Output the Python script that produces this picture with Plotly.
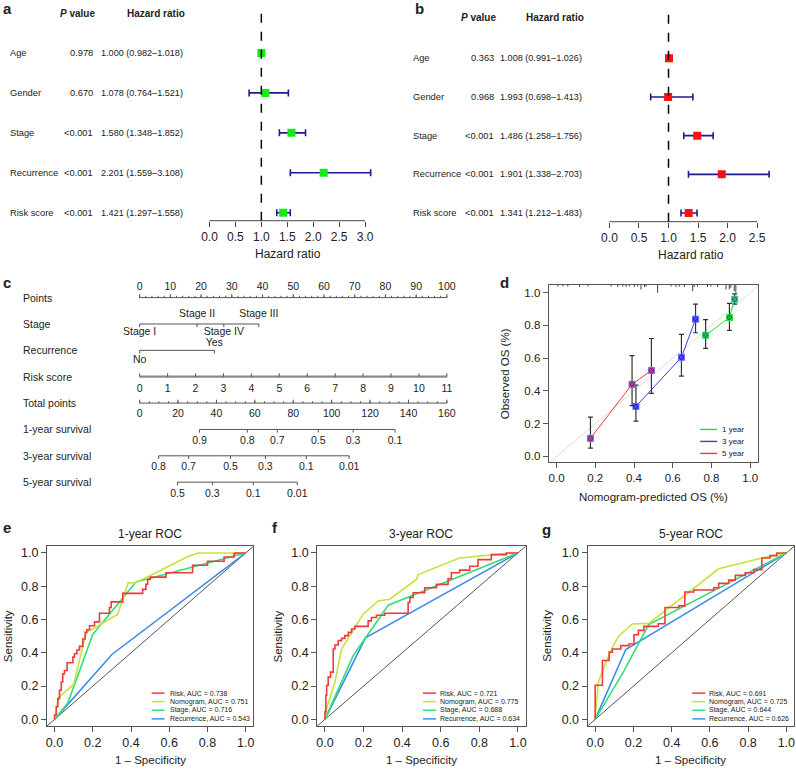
import plotly.graph_objects as go

W, H = 796, 770
FONT = "Liberation Sans, Arial, sans-serif"
INK = "#222222"


def X(px):
    return px / W


def Y(py):
    return 1 - py / H


# ---------------- data ----------------
# a / b : Cox regression forest plots
variables = ["Age", "Gender", "Stage", "Recurrence", "Risk score"]
a_pval = ["0.978", "0.670", "<0.001", "<0.001", "<0.001"]
a_hr = [1.000, 1.078, 1.580, 2.201, 1.421]
a_low = [0.982, 0.764, 1.348, 1.559, 1.297]
a_high = [1.018, 1.521, 1.852, 3.108, 1.558]
a_ticks = [0, 0.5, 1.0, 1.5, 2.0, 2.5, 3.0]

b_pval = ["0.363", "0.968", "<0.001", "<0.001", "<0.001"]
b_hr = [1.008, 0.993, 1.486, 1.901, 1.341]
b_hr_label = ["1.008", "1.993", "1.486", "1.901", "1.341"]
b_low = [0.991, 0.698, 1.258, 1.338, 1.212]
b_high = [1.026, 1.413, 1.756, 2.703, 1.483]
b_ticks = [0, 0.5, 1.0, 1.5, 2.0, 2.5]

# c : nomogram (positions in points / total points)
nom_rows = ["Points", "Stage", "Recurrence", "Risk score", "Total points",
            "1-year survival", "3-year survival", "5-year survival"]
points_ticks = [0, 10, 20, 30, 40, 50, 60, 70, 80, 90, 100]
stage_levels = ["Stage I", "Stage II", "Stage IV", "Stage III"]
stage_points = [0, 18.7, 27.4, 38.8]
rec_levels = ["No", "Yes"]
rec_points = [0, 24.3]
risk_ticks = [0, 1, 2, 3, 4, 5, 6, 7, 8, 9, 10, 11]
risk_max = 11
total_ticks = [0, 20, 40, 60, 80, 100, 120, 140, 160]
total_max = 160
surv1_labels = ["0.9", "0.8", "0.7", "0.5", "0.3", "0.1"]
surv1_total = [31.2, 56.1, 71.7, 93.0, 111.2, 133.0]
surv3_labels = ["0.8", "0.7", "0.5", "0.3", "0.1", "0.01"]
surv3_total = [9.9, 25.5, 47.3, 65.5, 86.8, 109.1]
surv5_labels = ["0.5", "0.3", "0.1", "0.01"]
surv5_total = [19.7, 37.9, 59.2, 82.1]

# d : calibration
cal1_x = [0.770, 0.893, 0.920]
cal1_y = [0.740, 0.848, 0.960]
cal1_lo = [0.660, 0.770, 0.930]
cal1_hi = [0.835, 0.935, 0.992]
cal3_x = [0.410, 0.645, 0.718]
cal3_y = [0.305, 0.605, 0.838]
cal3_lo = [0.215, 0.490, 0.755]
cal3_hi = [0.435, 0.745, 0.930]
cal5_x = [0.175, 0.390, 0.490]
cal5_y = [0.110, 0.440, 0.525]
cal5_lo = [0.050, 0.310, 0.385]
cal5_hi = [0.240, 0.615, 0.720]
rug_x = [0.007, 0.033, 0.058, 0.119, 0.162, 0.282, 0.316, 0.342, 0.359, 0.376,
         0.402, 0.419, 0.436, 0.454, 0.462, 0.522, 0.591, 0.617, 0.634, 0.660,
         0.703, 0.711, 0.728, 0.780, 0.797, 0.832, 0.875, 0.892, 0.900, 0.918, 0.926]
rug_len = [0.012, 0.012, 0.012, 0.015, 0.012, 0.012, 0.015, 0.012, 0.015, 0.012,
           0.015, 0.012, 0.03, 0.015, 0.012, 0.05, 0.012, 0.015, 0.012, 0.015,
           0.04, 0.015, 0.012, 0.015, 0.012, 0.015, 0.03, 0.03, 0.02, 0.04, 0.05]

# e / f / g : ROC curves
e_risk_fpr = [0, 0.009, 0.017, 0.026, 0.035, 0.043, 0.052, 0.066, 0.078, 0.096,
              0.104, 0.117, 0.130, 0.148, 0.160, 0.169, 0.183, 0.209, 0.235, 0.270,
              0.287, 0.296, 0.313, 0.357, 0.374, 0.461, 0.478, 0.487, 0.501, 0.510,
              0.583, 0.591, 0.722, 0.730, 0.800, 0.809, 0.887, 0.896, 0.939, 0.948, 1.0]
e_risk_tpr = [0, 0.026, 0.076, 0.125, 0.175, 0.225, 0.274, 0.294, 0.340, 0.340,
              0.374, 0.394, 0.417, 0.439, 0.483, 0.523, 0.539, 0.563, 0.586, 0.638,
              0.638, 0.672, 0.706, 0.706, 0.757, 0.757, 0.781, 0.811, 0.841, 0.855,
              0.855, 0.881, 0.881, 0.926, 0.926, 0.950, 0.950, 0.976, 0.976, 0.996, 1.0]
e_nom_fpr = [0, 0.01, 0.02, 0.10, 0.165, 0.33, 0.385, 0.42, 0.52, 0.70, 0.75, 1.0]
e_nom_tpr = [0, 0.07, 0.13, 0.21, 0.52, 0.63, 0.82, 0.82, 0.875, 0.98, 1.0, 1.0]
e_stage_fpr = [0, 0.07, 0.20, 0.426, 1.0]
e_stage_tpr = [0, 0.10, 0.51, 0.825, 1.0]
e_rec_fpr = [0, 0.30, 1.0]
e_rec_tpr = [0, 0.39, 1.0]
e_auc = ["0.738", "0.751", "0.716", "0.543"]

f_risk_fpr = [0, 0.005, 0.009, 0.017, 0.029, 0.043, 0.052, 0.069, 0.086, 0.103,
              0.121, 0.138, 0.155, 0.224, 0.241, 0.267, 0.310, 0.431, 0.440, 0.457,
              0.517, 0.578, 0.638, 0.655, 0.698, 0.750, 0.793, 0.862, 0.940, 0.957, 1.0]
f_risk_tpr = [0, 0.046, 0.145, 0.205, 0.254, 0.284, 0.423, 0.447, 0.473, 0.487,
              0.503, 0.523, 0.543, 0.559, 0.592, 0.612, 0.626, 0.638, 0.702, 0.732,
              0.761, 0.791, 0.811, 0.845, 0.881, 0.897, 0.920, 0.960, 0.990, 1.0, 1.0]
f_nom_fpr = [0, 0.009, 0.052, 0.086, 0.198, 0.276, 0.336, 0.474, 0.483, 0.698, 0.94, 1.0]
f_nom_tpr = [0, 0.066, 0.225, 0.423, 0.632, 0.712, 0.722, 0.841, 0.87, 0.97, 0.996, 1.0]
f_stage_fpr = [0, 0.147, 0.328, 1.0]
f_stage_tpr = [0, 0.384, 0.686, 1.0]
f_rec_fpr = [0, 0.21, 1.0]
f_rec_tpr = [0, 0.49, 1.0]
f_auc = ["0.721", "0.775", "0.688", "0.634"]

g_risk_fpr = [0, 0.038, 0.073, 0.090, 0.134, 0.177, 0.203, 0.226, 0.255, 0.330,
              0.365, 0.438, 0.469, 0.516, 0.620, 0.646, 0.698, 0.733, 0.785, 0.830,
              0.872, 0.915, 0.950, 1.0]
g_risk_tpr = [0, 0.205, 0.354, 0.404, 0.423, 0.443, 0.453, 0.509, 0.535, 0.559,
              0.575, 0.672, 0.682, 0.765, 0.777, 0.791, 0.817, 0.837, 0.865, 0.881,
              0.900, 0.970, 0.984, 1.0]
g_nom_fpr = [0, 0.003, 0.017, 0.056, 0.099, 0.125, 0.194, 0.281, 0.646, 0.872, 1.0]
g_nom_tpr = [0, 0.056, 0.225, 0.344, 0.453, 0.503, 0.573, 0.577, 0.905, 0.970, 1.0]
g_stage_fpr = [0, 0.15, 0.28, 1.0]
g_stage_tpr = [0, 0.29, 0.57, 1.0]
g_rec_fpr = [0, 0.16, 1.0]
g_rec_tpr = [0, 0.42, 1.0]
g_auc = ["0.691", "0.725", "0.644", "0.626"]

roc_names = ["Risk", "Nomogram", "Stage", "Recurrence"]
roc_colors = ["#f03a3a", "#c8e23c", "#2fe07a", "#3d8ee8"]

# ---------------- helpers ----------------
fig = go.Figure()
annotations = []
shapes = []
axes = {}


def xr(n):
    return "x" if n == 1 else f"x{n}"


def yr(n):
    return "y" if n == 1 else f"y{n}"


def xk(n):
    return "xaxis" if n == 1 else f"xaxis{n}"


def yk(n):
    return "yaxis" if n == 1 else f"yaxis{n}"


def note(text, x, y, size, xanchor="center", yanchor="middle", xref="paper",
         yref="paper", angle=0):
    annotations.append(dict(text=text, x=x, y=y, xref=xref, yref=yref,
                            xanchor=xanchor, yanchor=yanchor, showarrow=False,
                            borderpad=0, textangle=angle,
                            font=dict(size=size, color=INK, family=FONT)))


def forest(n, hr, low, high, pval, hr_txt, colour, ticks, dom_x, dom_y, rng_x, rng_y,
           lab_x, p_x, t_x, head_y, tick_title_y):
    rows = list(range(len(variables), 0, -1))
    fig.add_trace(go.Scatter(
        x=hr, y=rows, mode="markers", xaxis=xr(n), yaxis=yr(n),
        marker=dict(symbol="square", size=8, color=colour, line=dict(width=0)),
        error_x=dict(type="data", symmetric=False,
                     array=[h - m for m, h in zip(hr, high)],
                     arrayminus=[m - l for m, l in zip(hr, low)],
                     color="#1c1c8e", thickness=1.6, width=3.5)))
    axes[xk(n)] = dict(domain=[X(dom_x[0]), X(dom_x[1])], range=rng_x, anchor=yr(n),
                       tickvals=ticks, ticktext=[f"{t:.1f}" for t in ticks],
                       ticks="outside", ticklen=5, tickcolor="#444", showgrid=False,
                       zeroline=False, showline=False, tickfont=dict(size=12))
    axes[yk(n)] = dict(domain=[Y(dom_y[1]), Y(dom_y[0])], range=rng_y,
                       anchor=xr(n), visible=False)
    shapes.append(dict(type="line", xref=xr(n), yref=f"{yr(n)} domain", x0=ticks[0],
                       x1=ticks[-1], y0=0, y1=0, line=dict(color="#444", width=1)))
    shapes.append(dict(type="line", xref=xr(n), yref=f"{yr(n)} domain", x0=1, x1=1,
                       y0=0, y1=1, line=dict(color="black", width=1.5, dash="dash")))
    for r, v, p, t, lo, hi in zip(rows, variables, pval, hr_txt, low, high):
        note(v, X(lab_x), r, 9.3, xanchor="left", yref=yr(n))
        note(p, X(p_x), r, 9.3, xanchor="right", yref=yr(n))
        note(f"{t} ({lo:.3f}\u2013{hi:.3f})", X(t_x), r, 9.1, xanchor="right", yref=yr(n))
    note("<b><i>P</i> value</b>", X(p_x - 16), Y(head_y), 10)
    note("<b>Hazard ratio</b>", X(t_x - 28), Y(head_y), 10)
    note("Hazard ratio", X((dom_x[0] + dom_x[1]) / 2 + 0), Y(tick_title_y), 12)


# ---------------- a / b ----------------
forest(1, a_hr, a_low, a_high, a_pval, [f"{h:.3f}" for h in a_hr], "#11ee11", a_ticks,
       (200, 375), (8, 221), [-0.1731, 3.1923], [0.8, 6.125], 8, 93, 183, 14, 254)
forest(2, b_hr, b_low, b_high, b_pval, b_hr_label, "#ff1010", b_ticks,
       (598, 785), (10, 222), [-0.2027, 2.956], [0.7755, 6.2465], 412, 495, 583, 18, 255)

# ---------------- c : nomogram ----------------
NX, NY = "x3", "y3"
axes["xaxis3"] = dict(domain=[X(130), X(460)], range=[-2.922, 104.22], anchor=NY, visible=False)
axes["yaxis3"] = dict(domain=[Y(505), Y(278)], range=[7.841, -0.758], anchor=NX, visible=False)


def nom_line(row, pts, width=1, colour="#555"):
    fig.add_trace(go.Scatter(x=[min(pts), max(pts)], y=[row, row], mode="lines",
                             line=dict(color=colour, width=width), xaxis=NX, yaxis=NY))


def nom_ticks(row, pts, length, colour="#555"):
    tx, ty = [], []
    for p in pts:
        tx += [p, p, None]
        ty += [row, row + length, None]
    fig.add_trace(go.Scatter(x=tx, y=ty, mode="lines", line=dict(color=colour, width=1),
                             xaxis=NX, yaxis=NY))


def nom_labels(row, pts, labels, offsets):
    if not isinstance(offsets, list):
        offsets = [offsets] * len(pts)
    fig.add_trace(go.Scatter(x=pts, y=[row + o for o in offsets], mode="text", text=labels,
                             textposition="middle center", cliponaxis=False,
                             textfont=dict(size=10.5, color=INK, family=FONT),
                             xaxis=NX, yaxis=NY))


for i, name in enumerate(nom_rows):
    note(name, X(21), i, 10.5, xanchor="left", yref=NY)

# Points
nom_line(0, points_ticks)
nom_ticks(0, points_ticks, -0.13)
nom_ticks(0, [p for p in range(0, 101, 2)], -0.07)
nom_labels(0, points_ticks, [str(p) for p in points_ticks], -0.4)
# Stage
nom_line(1, stage_points)
nom_ticks(1, stage_points, 0.12)
nom_labels(1, stage_points, stage_levels, [0.33, -0.36, 0.33, -0.36])
# Recurrence
nom_line(2, rec_points)
nom_ticks(2, rec_points, 0.12)
nom_labels(2, rec_points, rec_levels, [0.38, -0.26])
# Risk score
risk_pts = [v * 100 / risk_max for v in risk_ticks]
nom_line(3, risk_pts, width=2.2, colour="#8a8a8a")
nom_ticks(3, risk_pts, -0.13)
nom_labels(3, risk_pts, [str(v) for v in risk_ticks], 0.48)
# Total points
total_pts = [t * 100 / total_max for t in total_ticks]
nom_line(4, total_pts)
nom_ticks(4, total_pts, -0.13)
nom_ticks(4, [t * 100 / total_max for t in range(0, 161, 5)], -0.07)
nom_labels(4, total_pts, [str(t) for t in total_ticks], 0.43)
# survival scales
for row, tot, labs in [(5, surv1_total, surv1_labels), (6, surv3_total, surv3_labels),
                       (7, surv5_total, surv5_labels)]:
    pts = [t * 100 / total_max for t in tot]
    nom_line(row, pts)
    nom_ticks(row, pts, 0.12)
    nom_labels(row, pts, labs, 0.45)


# ---------------- boxed axes (d, e, f, g) ----------------
def box_axes(n, dom_x, dom_y, rng_x, rng_y, tick_size):
    common = dict(showgrid=False, zeroline=False, showline=True, mirror=True,
                  linecolor="#555", linewidth=1, ticks="outside", ticklen=5,
                  tickwidth=1, tickcolor="#555", tickfont=dict(size=tick_size),
                  tick0=0, dtick=0.2, tickformat=".1f")
    axes[xk(n)] = dict(domain=[X(dom_x[0]), X(dom_x[1])], range=rng_x, anchor=yr(n), **common)
    axes[yk(n)] = dict(domain=[Y(dom_y[1]), Y(dom_y[0])], range=rng_y, anchor=xr(n), **common)


# d : calibration
box_axes(4, (549, 759), (285, 463), [-0.041, 1.041], [-0.037, 1.049], 11.5)
fig.add_trace(go.Scatter(x=[-0.1, 1.1], y=[-0.1, 1.1], mode="lines",
                         line=dict(color="#dddddd", width=1), xaxis="x4", yaxis="y4"))
rx, ry = [], []
for v, l in zip(rug_x, rug_len):
    rx += [v, v, None]
    ry += [1.049, 1.049 - l, None]
fig.add_trace(go.Scatter(x=rx, y=ry, mode="lines", line=dict(color="#444", width=1),
                         xaxis="x4", yaxis="y4"))
cal_colors = ["#22e022", "#3a3af0", "#f03a3a"]
for cx, cy, lo, hi, lc, fc, xc in [
        (cal1_x, cal1_y, cal1_lo, cal1_hi, cal_colors[0], "#1f5fb0", "#33dd55"),
        (cal3_x, cal3_y, cal3_lo, cal3_hi, cal_colors[1], "#1818dd", "#6a6aff"),
        (cal5_x, cal5_y, cal5_lo, cal5_hi, cal_colors[2], "#b0104a", "#7070ff")]:
    fig.add_trace(go.Scatter(
        x=cx, y=cy, mode="lines+markers", xaxis="x4", yaxis="y4",
        line=dict(color=lc, width=1),
        marker=dict(symbol="square-x", size=6, color=fc, line=dict(color=xc, width=1)),
        error_y=dict(type="data", symmetric=False,
                     array=[h - m for m, h in zip(cy, hi)],
                     arrayminus=[m - l for m, l in zip(cy, lo)],
                     color="#333", thickness=1.2, width=2.5)))
note("Observed OS (%)", X(505), Y(374), 11.5, angle=-90)
note("Nomogram-predicted OS (%)", X(654), Y(498), 11.5)
for k, lab in enumerate(["1 year", "3 year", "5 year"]):
    yy = 430 + 12 * k
    shapes.append(dict(type="line", xref="paper", yref="paper", x0=X(701), x1=X(718),
                       y0=Y(yy), y1=Y(yy), line=dict(color=cal_colors[k], width=1.4)))
    note(lab, X(722), Y(yy), 8, xanchor="left")

# e / f / g : ROC
roc_sets = [
    (5, (46, 253), "1-year ROC", [(e_risk_fpr, e_risk_tpr), (e_nom_fpr, e_nom_tpr),
                                 (e_stage_fpr, e_stage_tpr), (e_rec_fpr, e_rec_tpr)],
     e_auc, 7, 151, 168),
    (6, (317, 526), "3-year ROC", [(f_risk_fpr, f_risk_tpr), (f_nom_fpr, f_nom_tpr),
                                  (f_stage_fpr, f_stage_tpr), (f_rec_fpr, f_rec_tpr)],
     f_auc, 278, 423, 439),
    (7, (588, 795), "5-year ROC", [(g_risk_fpr, g_risk_tpr), (g_nom_fpr, g_nom_tpr),
                                  (g_stage_fpr, g_stage_tpr), (g_rec_fpr, g_rec_tpr)],
     g_auc, 548, 693, 709),
]
for n, dom_x, title, curves, aucs, ylab_x, leg_x, leg_tx in roc_sets:
    box_axes(n, dom_x, (547, 727), [-0.04, 1.04], [-0.04, 1.04], 12.5)
    fig.add_trace(go.Scatter(x=[-0.1, 1.1], y=[-0.1, 1.1], mode="lines",
                             line=dict(color="#555", width=1), xaxis=xr(n), yaxis=yr(n)))
    for k in [3, 2, 1, 0]:
        fx, ty = curves[k]
        fig.add_trace(go.Scatter(x=fx, y=ty, mode="lines", xaxis=xr(n), yaxis=yr(n),
                                 line=dict(color=roc_colors[k], width=1.6,
                                           shape="vh" if k == 0 else "linear")))
    cx = (dom_x[0] + dom_x[1]) / 2
    note(title, X(cx), Y(535), 12)
    note("1 \u2013 Specificity", X(cx), Y(761), 11.5)
    note("Sensitivity", X(ylab_x), Y(637), 11.5, angle=-90)
    for k in range(4):
        yy = 694 + 8.6 * k
        shapes.append(dict(type="line", xref="paper", yref="paper", x0=X(leg_x),
                           x1=X(leg_x + 13), y0=Y(yy), y1=Y(yy),
                           line=dict(color=roc_colors[k], width=1.5)))
        note(f"{roc_names[k]}, AUC = {aucs[k]}", X(leg_tx), Y(yy), 7, xanchor="left")

# panel letters
for lab, px, py in [("a", 1, 9), ("b", 414, 9), ("c", 1, 283), ("d", 499, 283),
                    ("e", 1, 528), ("f", 271, 528), ("g", 541, 530)]:
    note(f"<b>{lab}</b>", X(px), Y(py), 15, xanchor="left")

fig.update_layout(width=W, height=H, margin=dict(l=0, r=0, t=0, b=0),
                  paper_bgcolor="white", plot_bgcolor="white", showlegend=False,
                  font=dict(family=FONT, color=INK), annotations=annotations,
                  shapes=shapes, **axes)
# page body has a default 8px margin; drop it so the 796x770 figure fills the window
fig.write_html("out.html", config={"displayModeBar": False},
               post_script="document.body.style.margin='0';document.body.style.overflow='hidden';")
